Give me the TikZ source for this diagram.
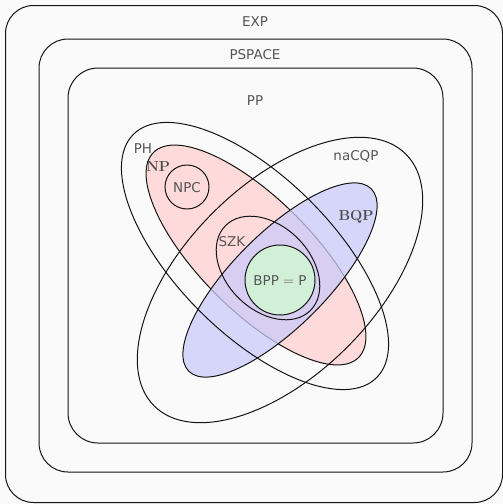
\documentclass[tikz,border=0pt]{standalone}
\usepackage{fontspec}
\setsansfont{DejaVu Sans}
\begin{document}
\begin{tikzpicture}[x=1pt,y=-1pt,
  outline/.style={draw={rgb,255:red,20;green,20;blue,20},line width=1pt},
  lbl/.style={text={rgb,255:red,85;green,85;blue,85},font=\sffamily\fontsize{13.5}{16}\selectfont,inner sep=0pt,anchor=base},
  blbl/.style={text={rgb,255:red,75;green,75;blue,75},font=\rmfamily\bfseries\fontsize{14.5}{16}\selectfont,inner sep=0pt,anchor=base}]
\definecolor{bgcol}{RGB}{250,250,250}
\definecolor{npfill}{RGB}{255,218,218}
\definecolor{bqpfill}{RGB}{203,203,250}
\definecolor{bppfill}{RGB}{209,240,215}
% canvas
\fill[bgcol] (0,0) rectangle (503,504);
\useasboundingbox (0,0) rectangle (503,504);
% nested classes
\draw[outline,rounded corners=28pt] (5.5,5.5) rectangle (502.5,502.5);
\draw[outline,rounded corners=29pt] (39,39) rectangle (472,472);
\draw[outline,rounded corners=30pt] (68,68) rectangle (443,443);
% NP
\draw[outline,fill=npfill,rotate around={-45:(256,255)}]
  (256,255) ellipse [x radius=145pt, y radius=56pt];
% BQP, translucent over NP
\fill[bqpfill,fill opacity=0.75,rotate around={45:(280,280)}]
  (280,280) ellipse [x radius=129pt, y radius=47pt];
\draw[outline,rotate around={45:(280,280)}]
  (280,280) ellipse [x radius=129pt, y radius=47pt];
% PH
\draw[outline,rotate around={-45:(255,256)}]
  (255,256) ellipse [x radius=172pt, y radius=78pt];
% naCQP
\draw[outline,rotate around={45:(280,280)}]
  (280,280) ellipse [x radius=178pt, y radius=95pt];
% SZK
\draw[outline,rotate around={-45:(268,268)}]
  (268,268) ellipse [x radius=60pt, y radius=42pt];
% BPP = P
\draw[outline,fill=bppfill] (280,280) circle [radius=35pt];
% NPC
\draw[outline] (187,187) circle [radius=22pt];
% labels
\node[lbl] (exp) at (255,26) {EXP};
\node[lbl] (pspace) at (255,59) {PSPACE};
\node[lbl] (pp) at (255,105) {PP};
\node[lbl] (ph) at (143,153) {PH};
\node[blbl] (np) at (158,171) {NP};
\node[lbl] (npc) at (187,192) {NPC};
\node[lbl] (nacqp) at (356,160) {naCQP};
\node[blbl] (bqp) at (356,220) {BQP};
\node[lbl] (szk) at (232,246) {SZK};
\node[lbl] (bpp) at (280,285) {BPP $=$ P};
\end{tikzpicture}
\end{document}
